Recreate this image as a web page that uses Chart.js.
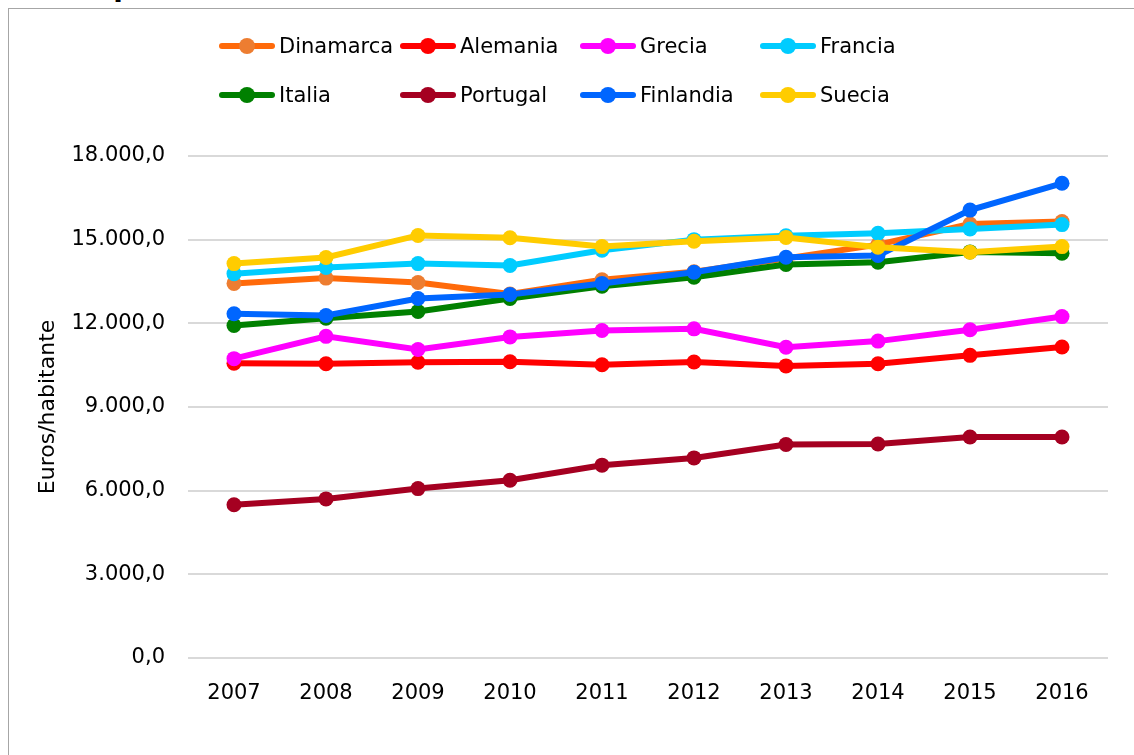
<!DOCTYPE html>
<html>
<head>
<meta charset="utf-8">
<script src="https://cdn.jsdelivr.net/npm/chart.js@4"></script>
<style>
  body { margin: 0; background: #fff; font-family: "DejaVu Sans", sans-serif; }
  #wrap { position: relative; width: 1134px; height: 755px; overflow: hidden; }
  #frame { position: absolute; left: 8px; top: 8px; width: 1200px; height: 800px;
           border-left: 1px solid #a6a6a6; border-top: 1px solid #a6a6a6; }
  #title { position: absolute; left: 2px; top: -30px; font-size: 28px; font-weight: bold; color: #000; white-space: nowrap; }
  #chart { position: absolute; left: 0; top: 0; }
  .leg { position: absolute; display: flex; align-items: center; height: 24px; font-size: 21px; color: #000; }
  .sym { position: relative; width: 56px; height: 24px; margin-right: 4px; }
  .sym .ln { position: absolute; left: 0; right: 0; top: 9px; height: 6px; border-radius: 3px; }
  .sym .dot { position: absolute; left: 20px; top: 4px; width: 16px; height: 16px; border-radius: 50%; }
</style>
</head>
<body>
<div id="wrap">
  <div id="title">(euros por habitante)</div>
  <div id="frame"></div>
  <canvas id="chart" width="1134" height="755"></canvas>
  <div id="legend"></div>
</div>
<script>
// --- Data ---
const years = ['2007', '2008', '2009', '2010', '2011', '2012', '2013', '2014', '2015', '2016'];
const dinamarca = [13430, 13620, 13460, 13050, 13560, 13850, 14320, 14820, 15560, 15650];
const alemania  = [10570, 10550, 10600, 10620, 10510, 10610, 10470, 10550, 10850, 11150];
const grecia    = [10730, 11530, 11060, 11510, 11740, 11800, 11140, 11360, 11770, 12240];
const francia   = [13780, 14000, 14140, 14070, 14620, 15000, 15140, 15230, 15380, 15540];
const italia    = [11920, 12180, 12420, 12890, 13330, 13650, 14110, 14190, 14560, 14510];
const portugal  = [5490, 5700, 6070, 6370, 6910, 7170, 7650, 7670, 7920, 7920];
const finlandia = [12340, 12280, 12890, 13030, 13430, 13830, 14370, 14430, 16060, 17020];
const suecia    = [14140, 14360, 15150, 15070, 14750, 14940, 15080, 14730, 14550, 14750];
const yTicks = [0, 3000, 6000, 9000, 12000, 15000, 18000];

const series = [
  { label: 'Dinamarca', data: dinamarca, line: '#ff6a0a', dot: '#ed7d31' },
  { label: 'Alemania',  data: alemania,  line: '#ff0000', dot: '#ff0000' },
  { label: 'Grecia',    data: grecia,    line: '#ff00ff', dot: '#ff00ff' },
  { label: 'Francia',   data: francia,   line: '#00ccff', dot: '#00ccff' },
  { label: 'Italia',    data: italia,    line: '#008000', dot: '#008000' },
  { label: 'Portugal',  data: portugal,  line: '#a50021', dot: '#a50021' },
  { label: 'Finlandia', data: finlandia, line: '#0066ff', dot: '#0066ff' },
  { label: 'Suecia',    data: suecia,    line: '#ffcc00', dot: '#ffcc00' }
];

// 18000 -> "18.000,0"
function fmt(v) {
  const parts = v.toFixed(1).split('.');
  return parts[0].replace(/\B(?=(\d{3})+(?!\d))/g, '.') + ',' + parts[1];
}

const font = { family: '"DejaVu Sans", sans-serif', size: 21 };

const chart = new Chart(document.getElementById('chart'), {
  type: 'line',
  data: {
    labels: years,
    datasets: series.map((s, i) => ({
      label: s.label,
      data: s.data,
      borderColor: s.line,
      backgroundColor: s.dot,
      pointBackgroundColor: s.dot,
      pointBorderColor: s.dot,
      borderWidth: 6,
      pointRadius: 7.5,
      pointBorderWidth: 0,
      tension: 0,
      order: series.length - i
    }))
  },
  options: {
    responsive: false,
    animation: false,
    devicePixelRatio: 1,
    layout: { padding: { top: 156, left: 31, right: 26, bottom: 26 } },
    plugins: { legend: { display: false }, tooltip: { enabled: false } },
    scales: {
      x: {
        offset: true,
        grid: { display: false, drawTicks: false },
        border: { display: false },
        ticks: { color: '#000', font: font, padding: 23 }
      },
      y: {
        min: 0,
        max: 18000,
        afterBuildTicks: s => { s.ticks = yTicks.map(v => ({ value: v })); },
        afterFit: s => { s.width = 157; },
        grid: { color: '#d9d9d9', lineWidth: 2, drawTicks: false },
        border: { display: false },
        ticks: { color: '#000', font: font, padding: 23, callback: v => fmt(v) },
        title: { display: true, text: 'Euros/habitante', color: '#000', font: { family: font.family, size: 22 }, padding: 4 }
      }
    }
  }
});

// --- Legend in 4 columns, 2 rows ---
const legend = document.getElementById('legend');
const colX = [219, 400, 580, 760];
const rowY = [34, 83];
chart.data.datasets.forEach((ds, i) => {
  const item = document.createElement('div');
  item.className = 'leg';
  item.style.left = colX[i % 4] + 'px';
  item.style.top = rowY[Math.floor(i / 4)] + 'px';
  item.innerHTML = '<div class="sym"><div class="ln" style="background:' + ds.borderColor +
    '"></div><div class="dot" style="background:' + ds.pointBackgroundColor + '"></div></div>' +
    '<span>' + ds.label + '</span>';
  legend.appendChild(item);
});
</script>
</body>
</html>
